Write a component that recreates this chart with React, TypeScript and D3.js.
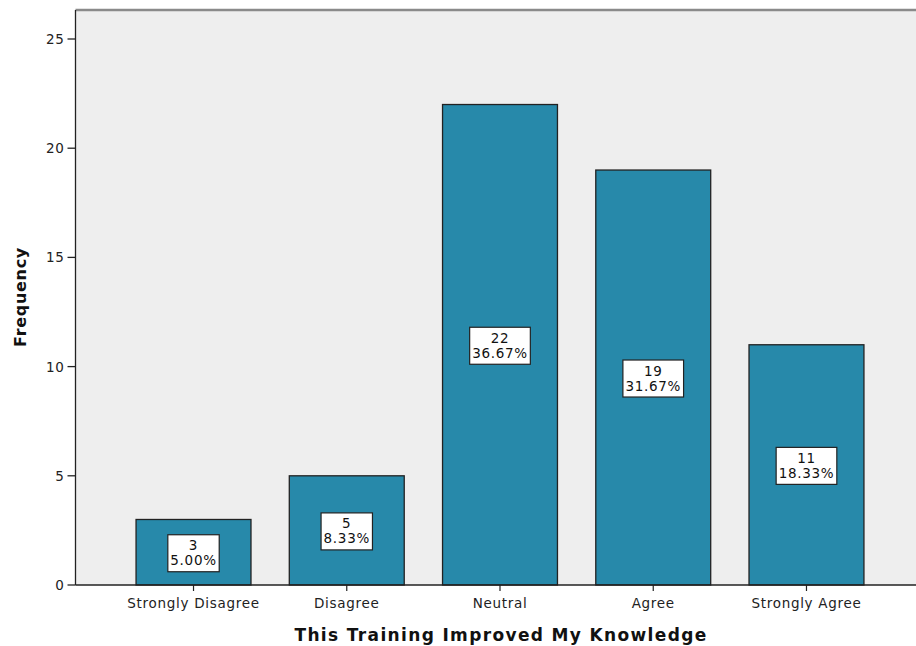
import React from "react";
import * as d3 from "d3";

const categories = ["Strongly Disagree", "Disagree", "Neutral", "Agree", "Strongly Agree"];
const counts = [3, 5, 22, 19, 11];
const percents = ["5.00%", "8.33%", "36.67%", "31.67%", "18.33%"];
const yTicks = [0, 5, 10, 15, 20, 25];

const W = 916;
const H = 646;
const FONT = "'DejaVu Sans', Verdana, sans-serif";
const LS = 0.7;

function textWidth(s: string, size: number) {
  if (typeof document === "undefined") return s.length * (size * 0.6 + LS);
  const c = document.createElement("canvas").getContext("2d");
  if (!c) return s.length * (size * 0.6 + LS);
  c.font = `${size}px 'DejaVu Sans'`;
  return c.measureText(s).width + s.length * LS;
}

export default function App() {
  const left = 75.5;
  const right = 916;
  const top = 10;
  const bottom = 585;
  const y = d3.scaleLinear().domain([0, 25]).range([bottom, 39]);
  const x = d3
    .scaleBand<string>()
    .domain(categories)
    .range([116.9, 883.1])
    .paddingInner(0.25)
    .paddingOuter(0.125);
  const bw = x.bandwidth();
  const fs = 13.5;

  return (
    <svg width={W} height={H} style={{ position: "absolute", left: 0, top: 0 }}>
      <rect x={0} y={0} width={W} height={H} fill="#ffffff" />
      <rect x={left} y={top} width={right - left} height={bottom - top} fill="#eeeeee" />
      <line x1={left} x2={right} y1={top} y2={top} stroke="#8a8a8a" strokeWidth={2.5} />
      {categories.map((c, i) => {
        const x0 = x(c)!;
        const yt = y(counts[i]);
        const cx = x0 + bw / 2;
        const cy = (yt + bottom) / 2 + 1;
        const w = Math.max(textWidth(counts[i].toString(), fs), textWidth(percents[i], fs)) + 5;
        const h = 37;
        return (
          <g key={c}>
            <rect x={x0} y={yt} width={bw} height={bottom - yt} fill="#2789aa" stroke="#222" strokeWidth={1.3} />
            <rect x={cx - w / 2} y={cy - h / 2} width={w} height={h} fill="#ffffff" stroke="#222" strokeWidth={1.2} />
            <text x={cx} y={cy - 3} textAnchor="middle" fontFamily={FONT} fontSize={fs} fill="#111" letterSpacing={LS}>
              {counts[i]}
            </text>
            <text x={cx} y={cy + 12} textAnchor="middle" fontFamily={FONT} fontSize={fs} fill="#111" letterSpacing={LS}>
              {percents[i]}
            </text>
            <line x1={cx} x2={cx} y1={bottom} y2={bottom + 6} stroke="#222" strokeWidth={1.2} />
            <text x={cx} y={bottom + 23} textAnchor="middle" fontFamily={FONT} fontSize={fs} fill="#222" letterSpacing={LS}>
              {c}
            </text>
          </g>
        );
      })}
      <line x1={left} x2={left} y1={top} y2={bottom} stroke="#222" strokeWidth={1.3} />
      <line x1={left} x2={right} y1={bottom} y2={bottom} stroke="#222" strokeWidth={1.3} />
      {yTicks.map((t) => (
        <g key={t}>
          <line x1={left - 8} x2={left} y1={y(t)} y2={y(t)} stroke="#222" strokeWidth={1.3} />
          <text x={left - 11} y={y(t) + 5} textAnchor="end" fontFamily={FONT} fontSize={fs} fill="#222" letterSpacing={LS}>
            {t}
          </text>
        </g>
      ))}
      <text x={501} y={641} textAnchor="middle" fontFamily={FONT} fontSize={17} fontWeight="bold" fill="#111" letterSpacing={1.35}>
        This Training Improved My Knowledge
      </text>
      <text
        transform={`translate(26, 297) rotate(-90)`}
        textAnchor="middle"
        fontFamily={FONT}
        fontSize={16}
        fontWeight="bold"
        fill="#111"
        letterSpacing={0.7}
      >
        Frequency
      </text>
    </svg>
  );
}
